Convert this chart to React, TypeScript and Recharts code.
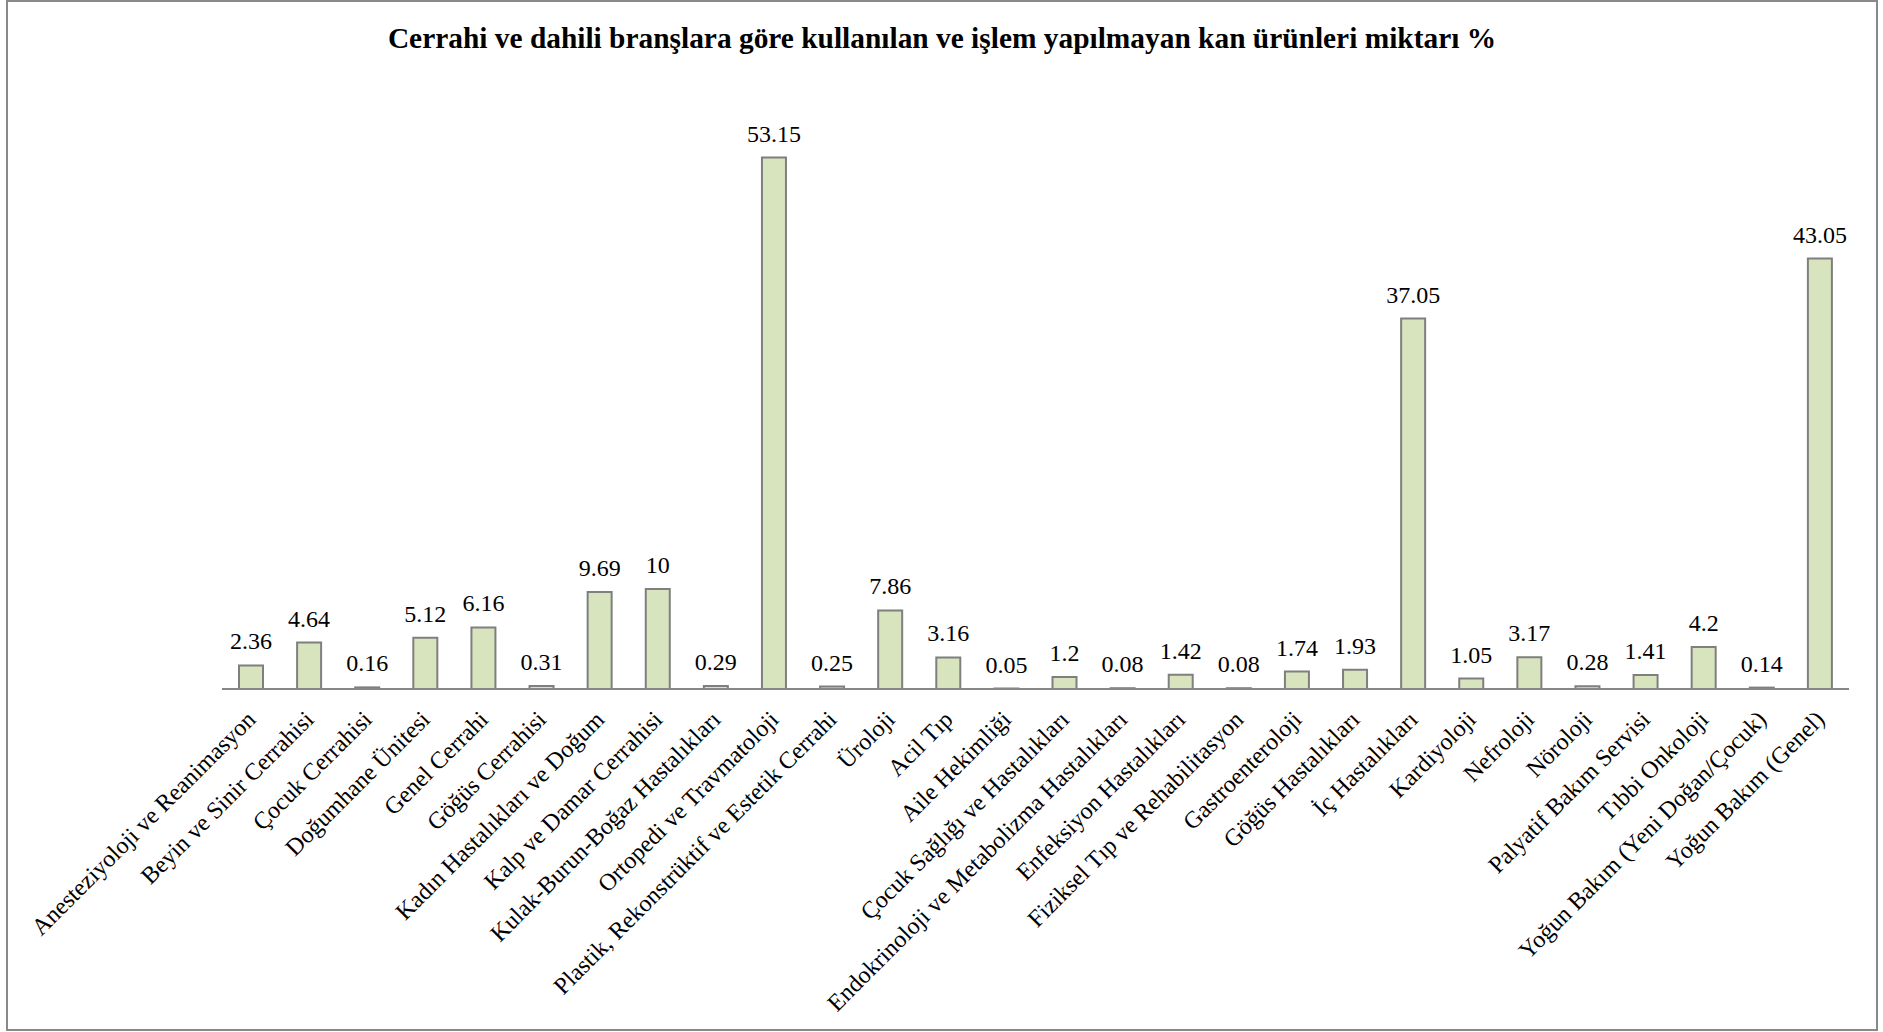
import React from "react";
import { BarChart, Bar, XAxis, YAxis, LabelList } from "recharts";

const title = "Cerrahi ve dahili branşlara göre kullanılan ve işlem yapılmayan kan ürünleri miktarı %";

const categories = [
  "Anesteziyoloji ve Reanimasyon",
  "Beyin ve Sinir Cerrahisi",
  "Çocuk Cerrahisi",
  "Doğumhane Ünitesi",
  "Genel Cerrahi",
  "Göğüs Cerrahisi",
  "Kadın Hastalıkları ve Doğum",
  "Kalp ve Damar Cerrahisi",
  "Kulak-Burun-Boğaz Hastalıkları",
  "Ortopedi ve Travmatoloji",
  "Plastik, Rekonstrüktif ve Estetik Cerrahi",
  "Üroloji",
  "Acil Tıp",
  "Aile Hekimliği",
  "Çocuk Sağlığı ve Hastalıkları",
  "Endokrinoloji ve Metabolizma Hastalıkları",
  "Enfeksiyon Hastalıkları",
  "Fiziksel Tıp ve Rehabilitasyon",
  "Gastroenteroloji",
  "Göğüs Hastalıkları",
  "İç Hastalıkları",
  "Kardiyoloji",
  "Nefroloji",
  "Nöroloji",
  "Palyatif Bakım Servisi",
  "Tıbbi Onkoloji",
  "Yoğun Bakım (Yeni Doğan/Çocuk)",
  "Yoğun Bakım (Genel)",
];

const values = [
  2.36, 4.64, 0.16, 5.12, 6.16, 0.31, 9.69, 10, 0.29, 53.15, 0.25, 7.86, 3.16, 0.05,
  1.2, 0.08, 1.42, 0.08, 1.74, 1.93, 37.05, 1.05, 3.17, 0.28, 1.41, 4.2, 0.14, 43.05,
];

const data = categories.map((name, i) => ({ name, value: values[i] }));

const FONT = "'Liberation Serif', 'Times New Roman', serif";

const CategoryTick = (props: any) => {
  const { x, y, payload } = props;
  return (
    <g transform={`translate(${x},${y + 26})`}>
      <text
        transform="rotate(-45)"
        textAnchor="end"
        dy="0.35em"
        fontSize={24}
        fontFamily={FONT}
        style={{ fontFamily: FONT }}
        fill="#000"
      >
        {payload.value}
      </text>
    </g>
  );
};

const ValueLabel = (props: any) => {
  const { x, y, width, value } = props;
  return (
    <text
      x={Number(x) + Number(width) / 2}
      y={Number(y) - 16}
      textAnchor="middle"
      fontSize={24}
      fontFamily={FONT}
      style={{ fontFamily: FONT, fontSize: 24 }}
      fill="#000"
    >
      {String(value)}
    </text>
  );
};

export default function App() {
  return (
    <div
      style={{
        position: "absolute",
        left: 0,
        top: 0,
        width: 1883,
        height: 1032,
        background: "#fff",
        fontFamily: FONT,
      }}
    >
      <div style={{ position: "absolute", left: 0, top: 0 }}>
        <BarChart
          width={1883}
          height={1032}
          data={data}
          margin={{ top: 89, right: 34, left: 222, bottom: 0 }}
          style={{ fontFamily: FONT }}
        >
          <YAxis hide domain={[0, 60]} />
          <XAxis
            dataKey="name"
            interval={0}
            height={343}
            tickLine={false}
            tickSize={0}
            tickMargin={0}
            axisLine={{ stroke: "#868686", strokeWidth: 2 }}
            tick={<CategoryTick />}
          />
          <Bar
            dataKey="value"
            fill="#D7E4BD"
            stroke="#7F7F7F"
            strokeWidth={2}
            barSize={24}
            isAnimationActive={false}
          >
            <LabelList dataKey="value" content={<ValueLabel />} />
          </Bar>
        </BarChart>
      </div>
      <svg
        width={1883}
        height={1032}
        style={{ position: "absolute", left: 0, top: 0, pointerEvents: "none" }}
      >
        <rect x={7} y={1} width={1870} height={1029} fill="none" stroke="#898989" strokeWidth={2} />
        <text
          x={942}
          y={48}
          textAnchor="middle"
          fontSize={29.4}
          fontWeight="bold"
          fontFamily={FONT}
          fill="#000"
        >
          {title}
        </text>
      </svg>
    </div>
  );
}
